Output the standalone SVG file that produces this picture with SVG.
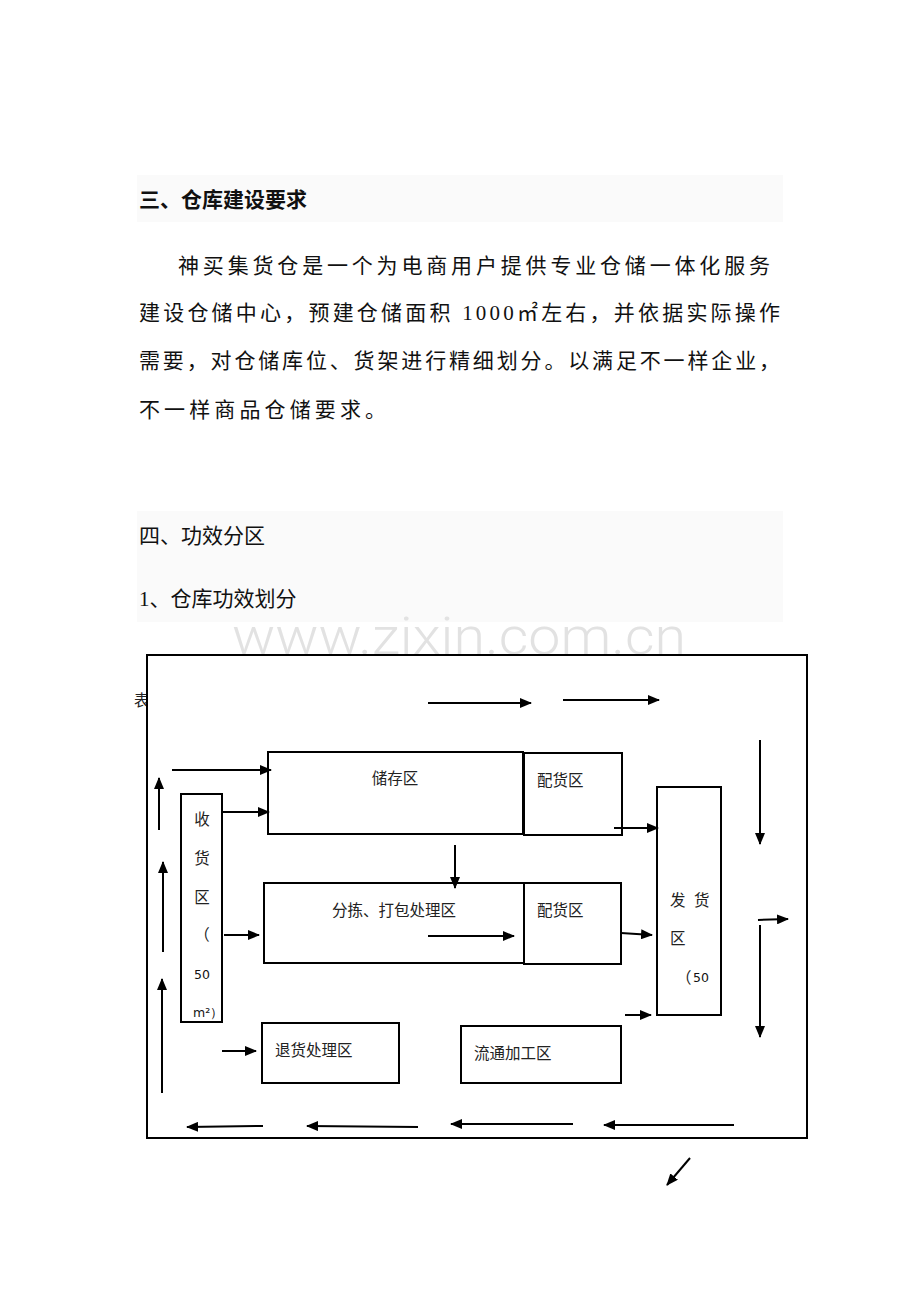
<svg xmlns="http://www.w3.org/2000/svg" width="920" height="1302" viewBox="0 0 920 1302">
<style>
.band{fill:#fafafa}
.h{font-family:"Liberation Serif","Noto Sans CJK SC",serif;font-size:21px;fill:#111}
.hb{font-weight:bold}
.p{font-family:"Liberation Serif","Noto Sans CJK SC",serif;font-size:21px;fill:#111}
.wm{font-family:Roboto,"Liberation Sans",sans-serif;font-size:52px;fill:#e2e2e2;font-weight:300}
.box{fill:#fff;stroke:#000;stroke-width:2}
.t{font-family:"Liberation Serif","Noto Sans CJK SC",serif;font-size:15.5px;fill:#222}
.n{font-family:"DejaVu Sans",sans-serif;font-size:12.5px;fill:#111}
.c line{stroke:#000;stroke-width:2;marker-end:url(#ah)}
</style>
<defs>
<marker id="ah" markerUnits="userSpaceOnUse" markerWidth="12" markerHeight="10" refX="11" refY="5" orient="auto">
<path d="M0,0 L12,5 L0,10 z" fill="#000"/>
</marker>
<clipPath id="clipL"><rect x="0" y="0" width="147" height="1302"/></clipPath>
</defs>
<rect width="920" height="1302" fill="#fff"/>

<g id="section3">
<rect class="band" x="137" y="175" width="646" height="47"/>
<text class="h hb" x="139" y="207">三、仓库建设要求</text>
<text class="p" x="178" y="273" textLength="592" lengthAdjust="spacing">神买集货仓是一个为电商用户提供专业仓储一体化服务</text>
<text class="p" x="139" y="320" textLength="641" lengthAdjust="spacing">建设仓储中心，预建仓储面积 1000㎡左右，并依据实际操作</text>
<text class="p" x="139" y="368" textLength="641" lengthAdjust="spacing">需要，对仓储库位、货架进行精细划分。以满足不一样企业，</text>
<text class="p" x="139" y="417" textLength="247" lengthAdjust="spacing">不一样商品仓储要求。</text>
</g>

<g id="section4">
<rect class="band" x="137" y="511" width="646" height="111"/>
<text class="h" x="139" y="543">四、功效分区</text>
<text class="h" x="139" y="606">1、仓库功效划分</text>
<text class="wm" x="459" y="654" text-anchor="middle" textLength="454" lengthAdjust="spacingAndGlyphs">www.zixin.com.cn</text>
</g>

<text class="t" x="134" y="706" clip-path="url(#clipL)">表</text>

<g id="frame"><rect x="147" y="655" width="660" height="483" fill="none" stroke="#000" stroke-width="2"/></g>

<g id="storage"><rect class="box" x="268" y="752" width="255" height="82"/><text class="t" x="395" y="784" text-anchor="middle">储存区</text></g>
<g id="dist1"><rect class="box" x="524" y="753" width="98" height="82"/><text class="t" x="537" y="786">配货区</text></g>
<g id="receive"><rect class="box" x="181" y="794" width="41" height="228"/>
<text class="t" x="202" y="825" text-anchor="middle">收</text>
<text class="t" x="202" y="864" text-anchor="middle">货</text>
<text class="t" x="202" y="903" text-anchor="middle">区</text>
<text class="t" x="202" y="940" text-anchor="middle">（</text>
<text class="n" x="194" y="979">50</text>
<text class="n" x="193" y="1017">m²）</text></g>
<g id="sort"><rect class="box" x="264" y="883" width="260" height="80"/><text class="t" x="394" y="916" text-anchor="middle">分拣、打包处理区</text></g>
<g id="dist2"><rect class="box" x="524" y="883" width="97" height="81"/><text class="t" x="537" y="916">配货区</text></g>
<g id="ship"><rect class="box" x="657" y="787" width="64" height="228"/>
<text class="t" x="670" y="906">发</text>
<text class="t" x="694" y="906">货</text>
<text class="t" x="670" y="944">区</text>
<text class="t" x="676" y="983">（</text>
<text class="n" x="693" y="982">50</text></g>
<g id="returns"><rect class="box" x="262" y="1023" width="137" height="60"/><text class="t" x="275" y="1056">退货处理区</text></g>
<g id="process"><rect class="box" x="461" y="1026" width="160" height="57"/><text class="t" x="474" y="1059">流通加工区</text></g>

<g id="connectors" class="c">
<line x1="428" y1="703" x2="531" y2="703"/>
<line x1="563" y1="700" x2="659" y2="700"/>
<line x1="760" y1="740" x2="760" y2="844"/>
<line x1="172" y1="770" x2="271" y2="770"/>
<line x1="159" y1="830" x2="159" y2="778"/>
<line x1="222" y1="812" x2="269" y2="812"/>
<line x1="455" y1="845" x2="455" y2="888"/>
<line x1="163" y1="952" x2="163" y2="862"/>
<line x1="224" y1="935" x2="259" y2="935"/>
<line x1="428" y1="936" x2="514" y2="936"/>
<line x1="614" y1="828" x2="658" y2="828"/>
<line x1="621" y1="933" x2="652" y2="935"/>
<line x1="758" y1="920" x2="788" y2="919"/>
<line x1="760" y1="925" x2="760" y2="1037"/>
<line x1="625" y1="1015" x2="651" y2="1015"/>
<line x1="222" y1="1051" x2="256" y2="1051"/>
<line x1="162" y1="1093" x2="162" y2="979"/>
<line x1="263" y1="1126" x2="187" y2="1127"/>
<line x1="418" y1="1127" x2="307" y2="1126"/>
<line x1="573" y1="1124" x2="451" y2="1124"/>
<line x1="734" y1="1125" x2="604" y2="1125"/>
<line x1="690" y1="1158" x2="667" y2="1185"/>
</g>
</svg>
